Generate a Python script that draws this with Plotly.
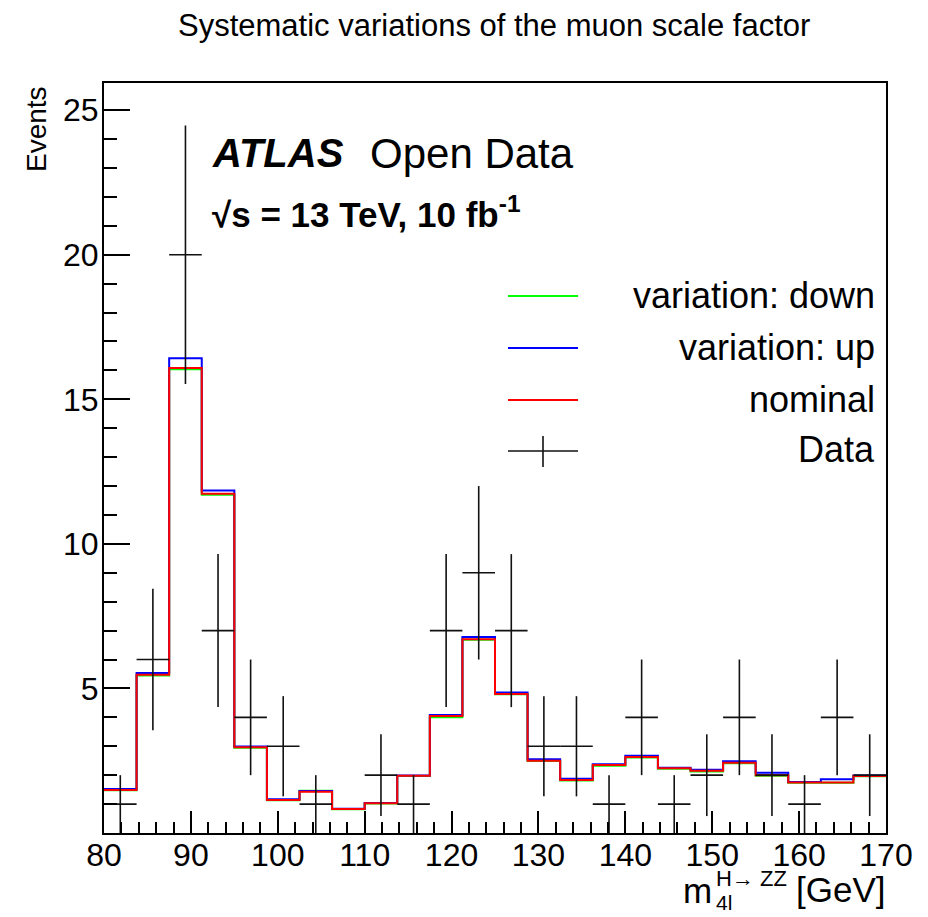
import numpy as np
import plotly.graph_objects as go

# ---- data -------------------------------------------------------------
bin_edges = [80, 83.75, 87.5, 91.25, 95, 98.75, 102.5, 106.25, 110, 113.75,
             117.5, 121.25, 125, 128.75, 132.5, 136.25, 140, 143.75, 147.5,
             151.25, 155, 158.75, 162.5, 166.25, 170]

nominal = [1.49, 5.47, 16.08, 11.73, 2.97, 1.14, 1.43, 0.83, 1.03, 1.98,
           4.05, 6.70, 4.81, 2.50, 1.83, 2.35, 2.63, 2.24, 2.15, 2.43,
           2.00, 1.75, 1.75, 1.97]
var_up = [1.52, 5.53, 16.42, 11.85, 2.99, 1.17, 1.45, 0.84, 1.04, 1.99,
          4.08, 6.78, 4.86, 2.55, 1.88, 2.38, 2.67, 2.26, 2.19, 2.48,
          2.08, 1.76, 1.86, 1.99]
var_down = [1.48, 5.45, 16.04, 11.70, 2.95, 1.13, 1.46, 0.82, 1.02, 1.97,
            4.00, 6.68, 4.80, 2.49, 1.82, 2.33, 2.61, 2.22, 2.13, 2.41,
            1.98, 1.74, 1.74, 1.96]
data_counts = [1, 6, 20, 7, 4, 3, 1, 0, 2, 1, 7, 9, 7, 3, 3, 1, 4, 1, 2, 4,
               2, 1, 4, 2]

x_ticks = [80, 90, 100, 110, 120, 130, 140, 150, 160, 170]
y_ticks = [5, 10, 15, 20, 25]

title_text = "Systematic variations of the muon scale factor"
legend_labels = ["variation: down", "variation: up", "nominal", "Data"]

# ---- derived ----------------------------------------------------------
edges = np.array(bin_edges)
centers = 0.5 * (edges[:-1] + edges[1:])
halfw = 0.5 * (edges[1:] - edges[:-1])
counts = np.array(data_counts, dtype=float)
mask = counts > 0

# page body has an 8px margin: lay out in window pixels and shift
OFF = 8
WIN_W, WIN_H = 928, 917
W, H = WIN_W - OFF, WIN_H - OFF
FRAME_L, FRAME_R, FRAME_T, FRAME_B = 104, 886, 83, 833   # window pixels
L = FRAME_L - OFF
T = FRAME_T - OFF
R = W - (FRAME_R - OFF)
B = H - (FRAME_B - OFF)
PW, PH = FRAME_R - FRAME_L, FRAME_B - FRAME_T
FONT = "Liberation Sans, Arial, Helvetica, sans-serif"


def px(x):
    return (x - FRAME_L) / PW


def py(y):
    return (FRAME_B - y) / PH


fig = go.Figure()


def step(vals, color, name):
    fig.add_trace(go.Scatter(
        x=list(edges), y=list(vals) + [vals[-1]], mode="lines",
        line=dict(shape="hv", color=color, width=2), name=name,
        showlegend=False, hoverinfo="skip"))


step(var_down, "#00ff00", "variation: down")
step(var_up, "#0000ff", "variation: up")
step(nominal, "#ff0000", "nominal")

fig.add_trace(go.Scatter(
    x=centers[mask], y=counts[mask], mode="markers",
    marker=dict(size=0.1, color="black"),
    error_x=dict(type="data", array=halfw[mask], width=0, thickness=1.6,
                 color="#111111"),
    error_y=dict(type="data", array=np.sqrt(counts[mask]), width=0,
                 thickness=1.6, color="#111111"),
    showlegend=False, name="Data"))

axis_common = dict(showline=True, linecolor="black", linewidth=2,
                   mirror=True, ticks="inside", tickwidth=2,
                   tickcolor="black", showgrid=False, zeroline=False,
                   tickfont=dict(family=FONT, size=32, color="black"))

fig.update_xaxes(range=[80, 170], tickmode="array", tickvals=x_ticks,
                 ticklen=22, ticklabelstandoff=-7,
                 minor=dict(tickmode="linear", tick0=80, dtick=2,
                            ticklen=11, ticks="inside", tickwidth=2,
                            tickcolor="black"),
                 **axis_common)
fig.update_yaxes(range=[0, 25.94], tickmode="array", tickvals=y_ticks,
                 ticklen=26, ticklabelstandoff=-3,
                 minor=dict(tickmode="linear", tick0=0, dtick=1,
                            ticklen=13, ticks="inside", tickwidth=2,
                            tickcolor="black"),
                 **axis_common)


def text(xp, yp, s, size, xanchor="left", yanchor="middle", **kw):
    return dict(x=px(xp), y=py(yp), xref="paper", yref="paper", text=s,
                showarrow=False, xanchor=xanchor, yanchor=yanchor,
                font=dict(family=FONT, size=size, color="black"), **kw)


ann = [
    text(494, 25, title_text, 31, xanchor="center"),
    text(210, 153, "<b><i>ATLAS</i></b>", 40),
    text(368, 153, "Open Data", 42),
    text(210, 212, "<b>√s = 13 TeV, 10 fb<sup>-1</sup></b>", 35),
    text(37, 84, "Events", 28, xanchor="center", yanchor="top",
         textangle=-90),
    # x-axis title pieces
    text(887, 889, "[GeV]", 35, xanchor="right"),
    text(714, 891, "m", 35, xanchor="right"),
    text(714, 879, "H→ ZZ", 22),
    text(714, 902, "4l", 21),
]

# legend (drawn manually, ROOT style)
leg_y = [296, 348, 400, 451]
leg_colors = ["#00ff00", "#0000ff", "#ff0000", "#111111"]
shapes = []
for lab, yy, col in zip(legend_labels, leg_y, leg_colors):
    shapes.append(dict(type="line", xref="paper", yref="paper",
                       x0=px(508), x1=px(578), y0=py(yy), y1=py(yy),
                       line=dict(color=col, width=2 if lab != "Data" else 1.6)))
    ann.append(text(877, yy - 1, lab, 36, xanchor="right"))
shapes.append(dict(type="line", xref="paper", yref="paper",
                   x0=px(543), x1=px(543), y0=py(436), y1=py(467),
                   line=dict(color="#111111", width=1.6)))

fig.update_layout(width=W, height=H, margin=dict(l=L, r=R, t=T, b=B),
                  paper_bgcolor="white", plot_bgcolor="white",
                  annotations=ann, shapes=shapes, showlegend=False)

fig.write_html("out.html")
